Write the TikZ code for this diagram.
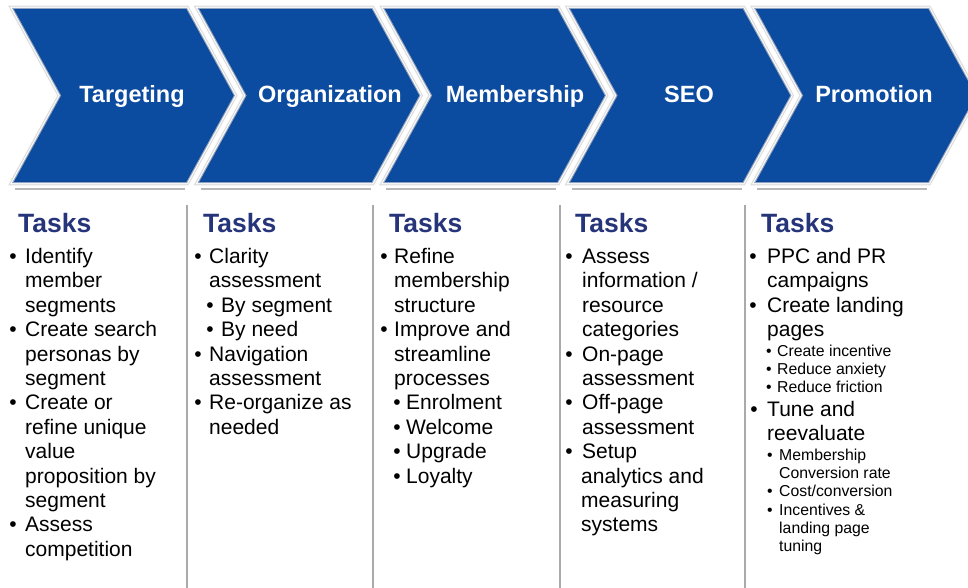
\documentclass[tikz,border=0pt]{standalone}
\usepackage{fontspec}
\setmainfont{Liberation Sans}
\definecolor{chevblue}{RGB}{12,76,160}
\definecolor{chevedge}{RGB}{6,52,120}
\definecolor{headnavy}{RGB}{38,52,122}
\definecolor{rulegray}{RGB}{170,170,170}
\tikzset{
  chevhalo/.style={draw=black!13, line width=4.6pt, line join=miter},
  chevbody/.style={fill=chevblue, draw=white, line width=2pt, line join=miter},
  chevrim/.style={draw=chevedge, line width=3pt, opacity=0.45},
  underbar/.style={draw=black!28, line width=2pt},
  phase/.style={text=white, font=\fontsize{23.5}{28}\selectfont\bfseries, inner sep=0pt, anchor=base},
  heading/.style={text=headnavy, font=\fontsize{26.5}{30}\selectfont\bfseries, inner sep=0pt, anchor=base west},
  txt/.style={font=\fontsize{21}{24.4}\selectfont, inner sep=0pt, anchor=base west},
  sub/.style={font=\fontsize{15.8}{18.3}\selectfont, inner sep=0pt, anchor=base west},
  bul/.style={font=\fontsize{21}{24.4}\selectfont, inner sep=0pt, anchor=base},
  subbul/.style={font=\fontsize{15.8}{18.3}\selectfont, inner sep=0pt, anchor=base},
  sep/.style={draw=rulegray, line width=2.6pt},
}
\begin{document}
\begin{tikzpicture}[x=1pt,y=-1pt]
\useasboundingbox (0,0) rectangle (968,588);
\fill[white] (0,0) rectangle (968,588);

% five chevrons of the process band
\foreach \i in {0,...,4} {
  \pgfmathsetmacro\R{187+185.5*\i}
  \pgfmathsetmacro\L{\R-175}
  \path[chevhalo] (\L,8) -- (\R,8) -- (\R+48,95.5) -- (\R,183) -- (\L,183) -- (\L+48,95.5) -- cycle;
}
\foreach \i in {0,...,4} {
  \pgfmathsetmacro\R{187+185.5*\i}
  \pgfmathsetmacro\L{\R-175}
  \path[chevbody] (\L,8) -- (\R,8) -- (\R+48,95.5) -- (\R,183) -- (\L,183) -- (\L+48,95.5) -- cycle;
  \begin{scope}
    \clip (\L,8) -- (\R,8) -- (\R+48,95.5) -- (\R,183) -- (\L,183) -- (\L+48,95.5) -- cycle;
    \path[chevrim] (\L,8) -- (\R,8) -- (\R+48,95.5) -- (\R,183) -- (\L,183) -- (\L+48,95.5) -- cycle;
  \end{scope}
  \draw[underbar] (\L+3,189) -- (\R-2,189);
}

% phase labels
\node[phase] (p1) at (132,103) {Targeting};
\node[phase] (p2) at (330,103) {Organization};
\node[phase] (p3) at (515,103) {Membership};
\node[phase] (p4) at (689,103) {SEO};
\node[phase] (p5) at (874,103) {Promotion};

% column separators
\draw[sep] (187,205) -- (187,588);
\draw[sep] (373,205) -- (373,588);
\draw[sep] (560,205) -- (560,588);
\draw[sep] (745,205) -- (745,588);

% headings
\node[heading] (h1) at (18,232) {Tasks};
\node[heading] (h2) at (203,232) {Tasks};
\node[heading] (h3) at (389,232) {Tasks};
\node[heading] (h4) at (575,232) {Tasks};
\node[heading] (h5) at (761,232) {Tasks};

% Targeting tasks
\node[bul] (a1b) at (13,263.5) {•};
\node[txt] (a1) at (25,263.5) {Identify};
\node[txt] (a2) at (25,287.9) {member};
\node[txt] (a3) at (25,312.3) {segments};
\node[bul] (a4b) at (13,336.7) {•};
\node[txt] (a4) at (25,336.7) {Create search};
\node[txt] (a5) at (25,361.1) {personas by};
\node[txt] (a6) at (25,385.5) {segment};
\node[bul] (a7b) at (13,409.9) {•};
\node[txt] (a7) at (25,409.9) {Create or};
\node[txt] (a8) at (25,434.3) {refine unique};
\node[txt] (a9) at (25,458.7) {value};
\node[txt] (a10) at (25,483.1) {proposition by};
\node[txt] (a11) at (25,507.5) {segment};
\node[bul] (a12b) at (13,531.9) {•};
\node[txt] (a12) at (25,531.9) {Assess};
\node[txt] (a13) at (25,556.3) {competition};

% Organization tasks
\node[bul] (b1b) at (198,263.5) {•};
\node[txt] (b1) at (209,263.5) {Clarity};
\node[txt] (b2) at (209,287.9) {assessment};
\node[bul] (b3b) at (210,312.3) {•};
\node[txt] (b3) at (221,312.3) {By segment};
\node[bul] (b4b) at (210,336.7) {•};
\node[txt] (b4) at (221,336.7) {By need};
\node[bul] (b5b) at (198,361.1) {•};
\node[txt] (b5) at (209,361.1) {Navigation};
\node[txt] (b6) at (209,385.5) {assessment};
\node[bul] (b7b) at (198,409.9) {•};
\node[txt] (b7) at (209,409.9) {Re-organize as};
\node[txt] (b8) at (209,434.3) {needed};

% Membership tasks
\node[bul] (c1b) at (384,263.5) {•};
\node[txt] (c1) at (394,263.5) {Refine};
\node[txt] (c2) at (394,287.9) {membership};
\node[txt] (c3) at (394,312.3) {structure};
\node[bul] (c4b) at (384,336.7) {•};
\node[txt] (c4) at (394,336.7) {Improve and};
\node[txt] (c5) at (394,361.1) {streamline};
\node[txt] (c6) at (394,385.5) {processes};
\node[bul] (c7b) at (397,409.9) {•};
\node[txt] (c7) at (406,409.9) {Enrolment};
\node[bul] (c8b) at (397,434.3) {•};
\node[txt] (c8) at (406,434.3) {Welcome};
\node[bul] (c9b) at (397,458.7) {•};
\node[txt] (c9) at (406,458.7) {Upgrade};
\node[bul] (c10b) at (397,483.1) {•};
\node[txt] (c10) at (406,483.1) {Loyalty};

% SEO tasks
\node[bul] (d1b) at (569,263.5) {•};
\node[txt] (d1) at (582,263.5) {Assess};
\node[txt] (d2) at (582,287.9) {information /};
\node[txt] (d3) at (582,312.3) {resource};
\node[txt] (d4) at (582,336.7) {categories};
\node[bul] (d5b) at (569,361.1) {•};
\node[txt] (d5) at (582,361.1) {On-page};
\node[txt] (d6) at (582,385.5) {assessment};
\node[bul] (d7b) at (569,409.9) {•};
\node[txt] (d7) at (582,409.9) {Off-page};
\node[txt] (d8) at (582,434.3) {assessment};
\node[bul] (d9b) at (569,458.7) {•};
\node[txt] (d9) at (582,458.7) {Setup};
\node[txt] (d10) at (581,483.1) {analytics and};
\node[txt] (d11) at (581,507.5) {measuring};
\node[txt] (d12) at (581,531.9) {systems};

% Promotion tasks
\node[bul] (e1b) at (753,263.5) {•};
\node[txt] (e1) at (767,263.5) {PPC and PR};
\node[txt] (e2) at (767,287.9) {campaigns};
\node[bul] (e3b) at (753,312.3) {•};
\node[txt] (e3) at (767,312.3) {Create landing};
\node[txt] (e4) at (767,336.7) {pages};
\node[subbul] (e5b) at (769,356) {•};
\node[sub] (e5) at (777,356) {Create incentive};
\node[subbul] (e6b) at (769,374.3) {•};
\node[sub] (e6) at (777,374.3) {Reduce anxiety};
\node[subbul] (e7b) at (769,392.6) {•};
\node[sub] (e7) at (777,392.6) {Reduce friction};
\node[bul] (e8b) at (754,416) {•};
\node[txt] (e8) at (767,416) {Tune and};
\node[txt] (e9) at (767,440.4) {reevaluate};
\node[subbul] (e10b) at (770,460) {•};
\node[sub] (e10) at (779,460) {Membership};
\node[sub] (e11) at (779,478.3) {Conversion rate};
\node[subbul] (e12b) at (770,496.6) {•};
\node[sub] (e12) at (779,496.6) {Cost/conversion};
\node[subbul] (e13b) at (770,515) {•};
\node[sub] (e13) at (779,515) {Incentives \&};
\node[sub] (e14) at (779,533.2) {landing page};
\node[sub] (e15) at (779,551.5) {tuning};
\end{tikzpicture}
\end{document}
